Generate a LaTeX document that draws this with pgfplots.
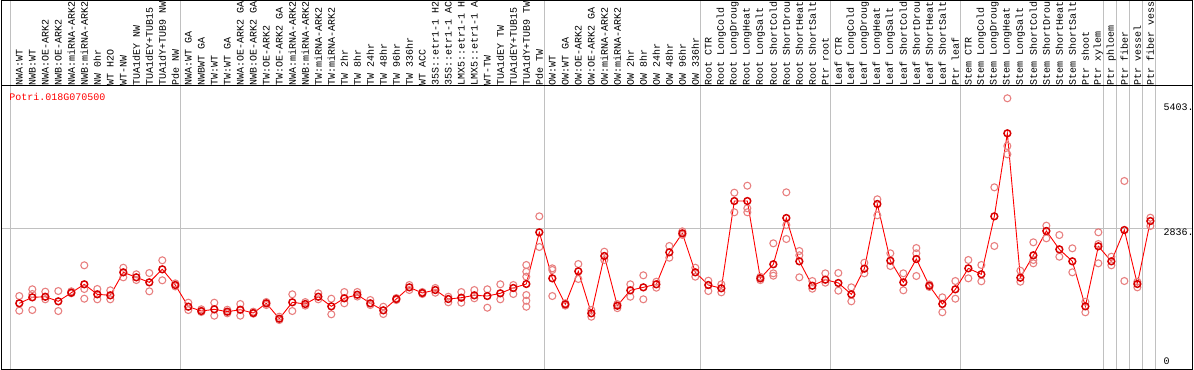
\documentclass[border=0pt]{standalone}
\usepackage{pgfplots}
\pgfplotsset{compat=1.18}
\usepackage{pgfplotstable}
\usepackage{fontspec}
\setmainfont{Liberation Mono}
\definecolor{repcol}{RGB}{232,128,128}
\definecolor{meancol}{RGB}{215,0,0}
\definecolor{gridcol}{RGB}{192,192,192}
\pgfplotstableread{
x y
0 1346
1 1464
2 1476
3 1385
4 1556
5 1722
6 1524
7 1504
8 1959
9 1860
10 1761
11 2019
12 1708
13 1279
14 1193
15 1227
16 1180
17 1219
18 1154
19 1346
20 1041
21 1366
22 1332
23 1476
24 1286
25 1445
26 1516
27 1346
28 1207
29 1431
30 1662
31 1550
32 1609
33 1431
34 1457
35 1504
36 1490
37 1544
38 1649
39 1728
40 2751
41 1840
42 1326
43 1979
44 1148
45 2282
46 1298
47 1603
48 1662
49 1722
50 2355
51 2731
52 1959
53 1708
54 1643
55 3370
56 3370
57 1840
58 2118
59 3034
60 2177
61 1694
62 1813
63 1748
64 1524
65 2031
66 3311
67 2189
68 1761
69 2222
70 1694
71 1332
72 1623
73 2038
74 1920
75 3067
76 4710
77 1852
78 2296
79 2777
80 2414
81 2177
82 1286
83 2474
84 2177
85 2796
86 1728
87 2974
}\meantable
\pgfplotstableread{
x y
0 1490
0 1200
1 1623
1 1530
1 1213
2 1576
2 1425
3 1589
3 1193
4 1583
4 1544
5 2098
5 1629
5 1437
6 1629
6 1425
7 1603
7 1425
8 2050
8 1860
9 1920
9 1807
10 1945
10 1583
11 2197
11 1801
12 1740
12 1680
13 1358
13 1213
14 1227
14 1174
15 1358
15 1101
16 1219
16 1148
17 1332
17 1101
18 1180
18 1140
19 1372
19 1312
20 1081
20 1015
21 1524
21 1193
22 1370
22 1300
23 1544
23 1425
24 1437
24 1128
25 1569
25 1346
26 1570
26 1480
27 1411
27 1312
28 1278
28 1134
29 1450
29 1411
30 1708
30 1609
31 1570
31 1530
32 1649
32 1556
33 1476
33 1366
34 1569
34 1358
35 1609
35 1445
36 1623
36 1259
37 1722
37 1425
38 1708
38 1530
39 2104
39 1971
39 1873
39 1510
39 1397
39 1278
40 3067
40 2460
41 2038
41 2005
41 1490
42 1346
42 1300
43 2123
43 1827
44 1213
44 1081
45 2367
45 2203
46 1330
46 1250
47 1722
47 1476
48 1900
48 1425
49 1773
49 1655
50 2480
50 2248
51 2770
51 2700
52 2050
52 1873
53 1793
53 1589
54 1722
54 1563
55 3535
55 3147
56 3673
56 3226
56 3147
57 1870
57 1805
58 2533
58 1939
58 1892
59 3542
59 2895
59 2618
60 2381
60 2296
60 1860
61 1787
61 1635
62 1939
62 1754
63 1945
63 1596
64 1662
64 1385
65 2149
65 1939
66 3404
66 3087
67 2335
67 2084
68 1939
68 1603
69 2440
69 2335
69 1886
70 1720
70 1670
71 1464
71 1168
72 1787
72 1437
73 2203
73 1840
74 2104
74 1781
75 3641
75 2480
76 5403
76 4459
76 4294
77 1991
77 1773
78 2553
78 2203
78 2137
79 2882
79 2632
80 2697
80 2268
81 2434
81 1959
82 1377
82 1168
83 2751
83 2519
83 2137
84 2268
84 2098
85 3766
85 1787
86 1773
86 1662
87 3040
87 2876
}\reptable
\begin{document}
\fontsize{10bp}{12bp}\selectfont
\begin{tikzpicture}
\useasboundingbox (0,0) rectangle (1194bp,370bp);
\foreach \p in {10.7,180,544.3,700.3,830.3,960.7,1103.3,1116.3,1129.3,1142.3,1155.5}{
  \draw[gridcol, line width=1bp] (\p bp,0.5bp) -- (\p bp,369.5bp);
}
\begin{axis}[
  at={(1.5bp,0.5bp)}, anchor=south west,
  scale only axis, width=1191bp, height=283.8bp,
  xmin=-1.369, xmax=90.246, ymin=36, ymax=5652,
  xtick={0,...,87},
  xticklabels={NWA:WT,NWB:WT,NWA:OE-ARK2,NWB:OE-ARK2,NWA:miRNA-ARK2,NWB:miRNA-ARK2,NW 0hr,WT H2O,WT-NW,TUA1dEY NW,TUA1dEY+TUB15,TUA1dY+TUB9 NW,Pde NW,NWA:WT GA,NWBWT GA,TW:WT,TW:WT GA,NWA:OE-ARK2 GA,NWB:OE-ARK2 GA,TW:OE-ARK2,TW:OE-ARK2 GA,NWA:miRNA-ARK2,NWB:miRNA-ARK2,TW:miRNA-ARK2,TW:miRNA-ARK2,TW 2hr,TW 8hr,TW 24hr,TW 48hr,TW 96hr,TW 336hr,WT ACC,35S::etr1-1 H2,35S::etr1-1 AC,LMX5::etr1-1 H,LMX5::etr1-1 A,WT-TW,TUA1dEY TW,TUA1dEY+TUB15,TUA1dY+TUB9 TW,Pde TW,OW:WT,OW:WT GA,OW:OE-ARK2,OW:OE-ARK2 GA,OW:miRNA-ARK2,OW:miRNA-ARK2,OW 2hr,OW 8hr,OW 24hr,OW 48hr,OW 96hr,OW 336hr,Root CTR,Root LongCold,Root LongDroug,Root LongHeat,Root LongSalt,Root ShortCold,Root ShortDrou,Root ShortHeat,Root ShortSalt,Ptr root,Leaf CTR,Leaf LongCold,Leaf LongDroug,Leaf LongHeat,Leaf LongSalt,Leaf ShortCold,Leaf ShortDrou,Leaf ShortHeat,Leaf ShortSalt,Ptr leaf,Stem CTR,Stem LongCold,Stem LongDroug,Stem LongHeat,Stem LongSalt,Stem ShortCold,Stem ShortDrou,Stem ShortHeat,Stem ShortSalt,Ptr shoot,Ptr xylem,Ptr phloem,Ptr fiber,Ptr vessel,Ptr fiber vess},
  xticklabel pos=upper,
  xticklabel style={rotate=90, anchor=west, inner sep=0pt, xshift=0pt, font=\fontsize{10bp}{12bp}\selectfont},
  major tick length=0pt,
  ytick={2836}, yticklabels={},
  ymajorgrids, grid style={gridcol, line width=1bp},
  axis line style={line width=1bp},
  clip=false,
]
\addplot[only marks, mark=o, color=repcol, mark size=3.5bp, mark options={line width=1.1bp}] table[x=x,y=y] {\reptable};
\addplot[red, line width=0.9bp, mark=o, mark size=3.4bp, mark options={line width=1.5bp, draw=meancol}] table[x=x,y=y] {\meantable};
\end{axis}
\draw[black, line width=1bp] (1.5bp,0.5bp) rectangle (1192.5bp,369.5bp);
\node[anchor=west, inner sep=0pt, text=red, font=\fontsize{10bp}{12bp}\selectfont] at (9.3bp,273bp) {Potri.018G070500};
\node[anchor=west, inner sep=0pt, font=\fontsize{10bp}{12bp}\selectfont] at (1163.3bp,263bp) {5403.};
\node[anchor=west, inner sep=0pt, font=\fontsize{10bp}{12bp}\selectfont] at (1163.3bp,137.3bp) {2836.};
\node[anchor=west, inner sep=0pt, font=\fontsize{10bp}{12bp}\selectfont] at (1163.3bp,8.3bp) {0};
\end{tikzpicture}
\end{document}
